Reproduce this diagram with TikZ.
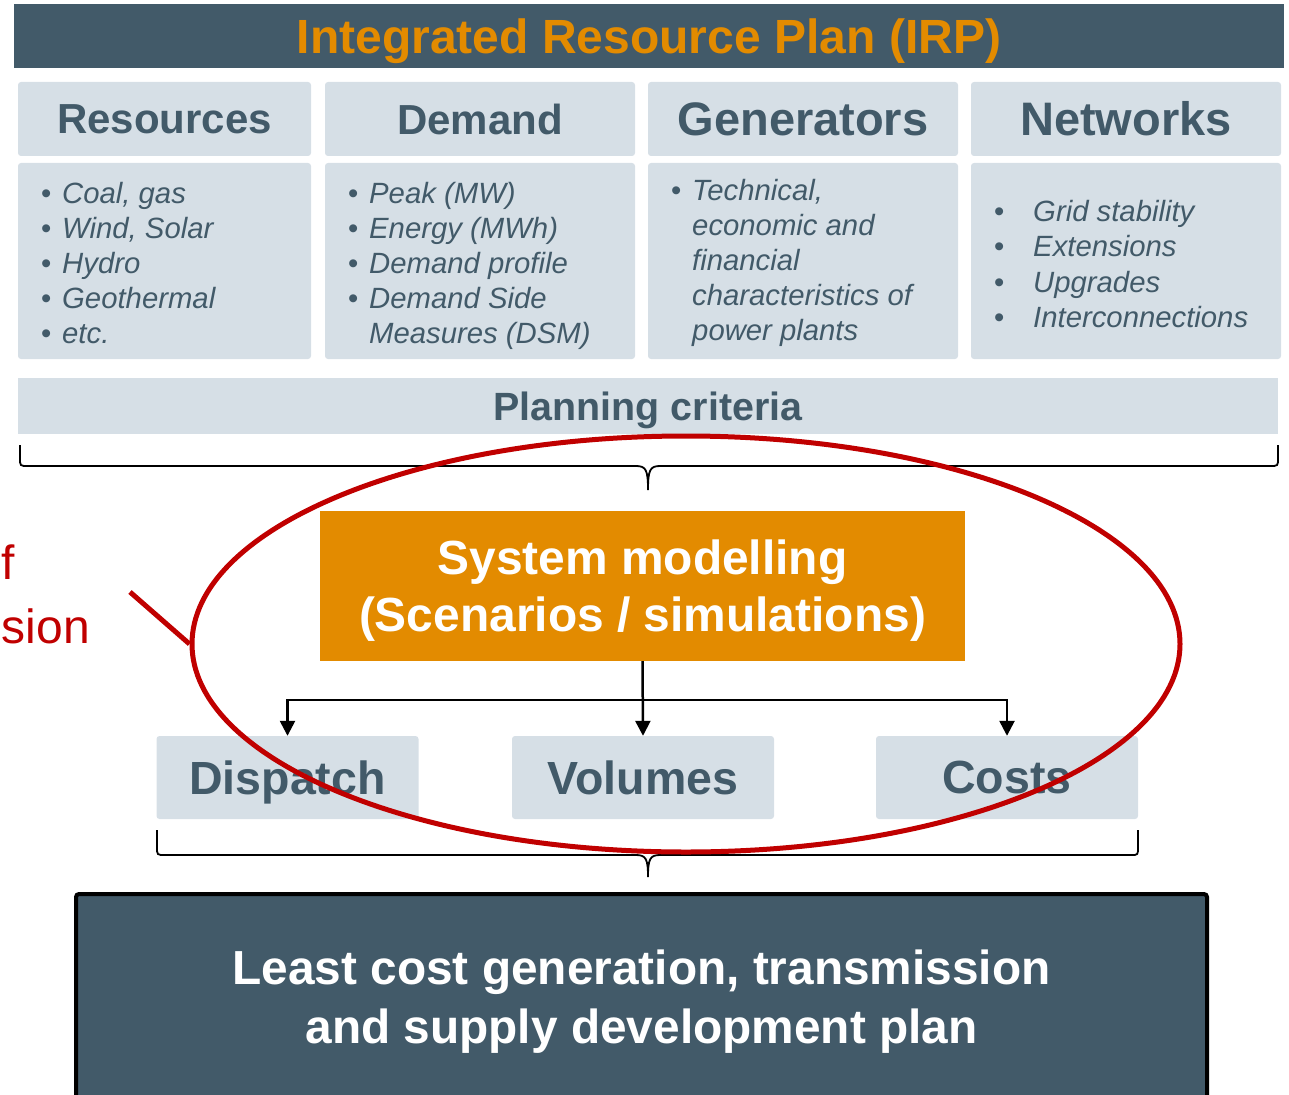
\documentclass[tikz,border=0pt]{standalone}
\usepackage{fontspec}
\setmainfont{Liberation Sans}
\usetikzlibrary{arrows.meta, shapes.geometric}
\definecolor{irpslate}{HTML}{425A69}
\definecolor{irplight}{HTML}{D6DFE6}
\definecolor{irporange}{HTML}{E38B00}
\definecolor{irpred}{HTML}{C00000}
\newcommand{\itembul}[1][21pt]{\makebox[#1][l]{\upshape\textbullet}}
\newcommand{\itemgap}[1][21pt]{\hspace*{#1}}

\begin{document}
\begin{tikzpicture}[x=1pt, y=-1pt,
    headbox/.style={rectangle, fill=irplight, rounded corners=3pt, minimum height=74pt, text=irpslate, font=\fontsize{42}{48}\selectfont\bfseries},
    listbox/.style={rectangle, fill=irplight, rounded corners=3pt, minimum height=196pt},
    listtext/.style={anchor=west, align=left, inner sep=0pt, text=irpslate, font=\fontsize{29.3}{35.2}\selectfont\itshape},
    outbox/.style={rectangle, fill=irplight, rounded corners=3pt, minimum width=262pt, minimum height=83pt, text depth=0pt, text=irpslate, font=\fontsize{46.5}{52}\selectfont\bfseries},
    flow/.style={line width=2.5pt, -{Triangle[length=15pt, width=15pt]}},
    bracket/.style={line width=1.8pt}]
    \useasboundingbox (0,0) rectangle (1289,1094);
    \clip (0,0) rectangle (1289,1094);

    % Title bar
    \node[rectangle, fill=irpslate, minimum width=1270pt, minimum height=64pt, text depth=0pt, text=irporange, font=\fontsize{48}{56}\selectfont\bfseries] (title) at (649,36)
        {Integrated Resource Plan (IRP)};

    % Input categories
    \node[headbox, minimum width=293pt] (res) at (164.5,119) {Resources};
    \node[headbox, minimum width=310pt] (dem) at (480,119) {Demand};
    \node[headbox, minimum width=310pt, font=\fontsize{47}{52}\selectfont\bfseries] (gen) at (803,119) {Generators};
    \node[headbox, minimum width=310pt, font=\fontsize{47}{52}\selectfont\bfseries] (net) at (1126,119) {Networks};

    \node[listbox, minimum width=293pt] (resbox) at (164.5,261) {};
    \node[listbox, minimum width=310pt] (dembox) at (480,261) {};
    \node[listbox, minimum width=310pt] (genbox) at (803,261) {};
    \node[listbox, minimum width=310pt] (netbox) at (1126,261) {};

    \node[listtext] (reslist) at (41,263)
        {\itembul Coal, gas\\ \itembul Wind, Solar\\ \itembul Hydro\\ \itembul Geothermal\\ \itembul etc.};
    \node[listtext] (demlist) at (348,266)
        {\itembul Peak (MW)\\ \itembul Energy (MWh)\\ \itembul Demand profile\\ \itembul Demand Side\\ \itemgap Measures (DSM)};
    \node[listtext] (genlist) at (671,263)
        {\itembul Technical,\\ \itemgap economic and\\ \itemgap financial\\ \itemgap characteristics of\\ \itemgap power plants};
    \node[listtext] (netlist) at (994,264)
        {\itembul[39pt]Grid stability\\ \itembul[39pt]Extensions\\ \itembul[39pt]Upgrades\\ \itembul[39pt]Interconnections};

    % Planning criteria
    \node[rectangle, fill=irplight, minimum width=1260pt, minimum height=56pt, text depth=0pt, text=irpslate, font=\fontsize{39.4}{46}\selectfont\bfseries] (crit) at (648,406)
        {Planning criteria};
    \draw[bracket] (20,445) -- (20,458) .. controls (20,466) .. (28,466) -- (636,466)
        .. controls (646,466) and (648,470) .. (648,490) .. controls (648,470) and (650,466) .. (660,466)
        -- (1270,466) .. controls (1278,466) .. (1278,458) -- (1278,445);

    % Modelling and outputs
    \node[rectangle, fill=irporange, minimum width=645pt, minimum height=150pt, text depth=0pt, text=white, align=center, font=\fontsize{47.9}{57}\selectfont\bfseries] (sysmod) at (642.5,586)
        {System modelling\\(Scenarios / simulations)};

    \node[outbox] (disp) at (287.5,777.5) {Dispatch};
    \node[outbox] (vol) at (643,777.5) {Volumes};
    \node[outbox] (cost) at (1007,777.5) {Costs};

    % Arrows
    \coordinate (split) at (643,700);
    \draw[flow] (sysmod.south) -- (vol.north);
    \draw[flow] (split) -| (disp.north);
    \draw[flow] (split) -| (cost.north);

    \draw[bracket] (157,830) -- (157,847) .. controls (157,855) .. (165,855) -- (636,855)
        .. controls (646,855) and (648,859) .. (648,877) .. controls (648,859) and (650,855) .. (660,855)
        -- (1131,855) .. controls (1138,855) .. (1138,847) -- (1138,830);

    % Result
    \node[rectangle, fill=irpslate, draw=black, line width=4pt, rounded corners=3pt, minimum width=1131pt, minimum height=216pt, text=white, align=center, font=\fontsize{47.8}{59}\selectfont\bfseries] (plan) at (641.5,1002)
        {Least cost generation, transmission\\and supply development plan};

    % Highlight
    \node[ellipse, draw=irpred, line width=5pt, minimum width=988pt, minimum height=416pt] (focus) at (686,644) {};
    \coordinate (ptr) at (130,592);
    \draw[irpred, line width=5pt] (ptr) -- (focus.west);
    \node[anchor=base east, inner sep=0pt, text=irpred, font=\fontsize{48}{56}\selectfont] (notea) at (15,579) {f};
    \node[anchor=base east, inner sep=0pt, text=irpred, font=\fontsize{48}{56}\selectfont] (noteb) at (90,643) {sion};
\end{tikzpicture}
\end{document}
